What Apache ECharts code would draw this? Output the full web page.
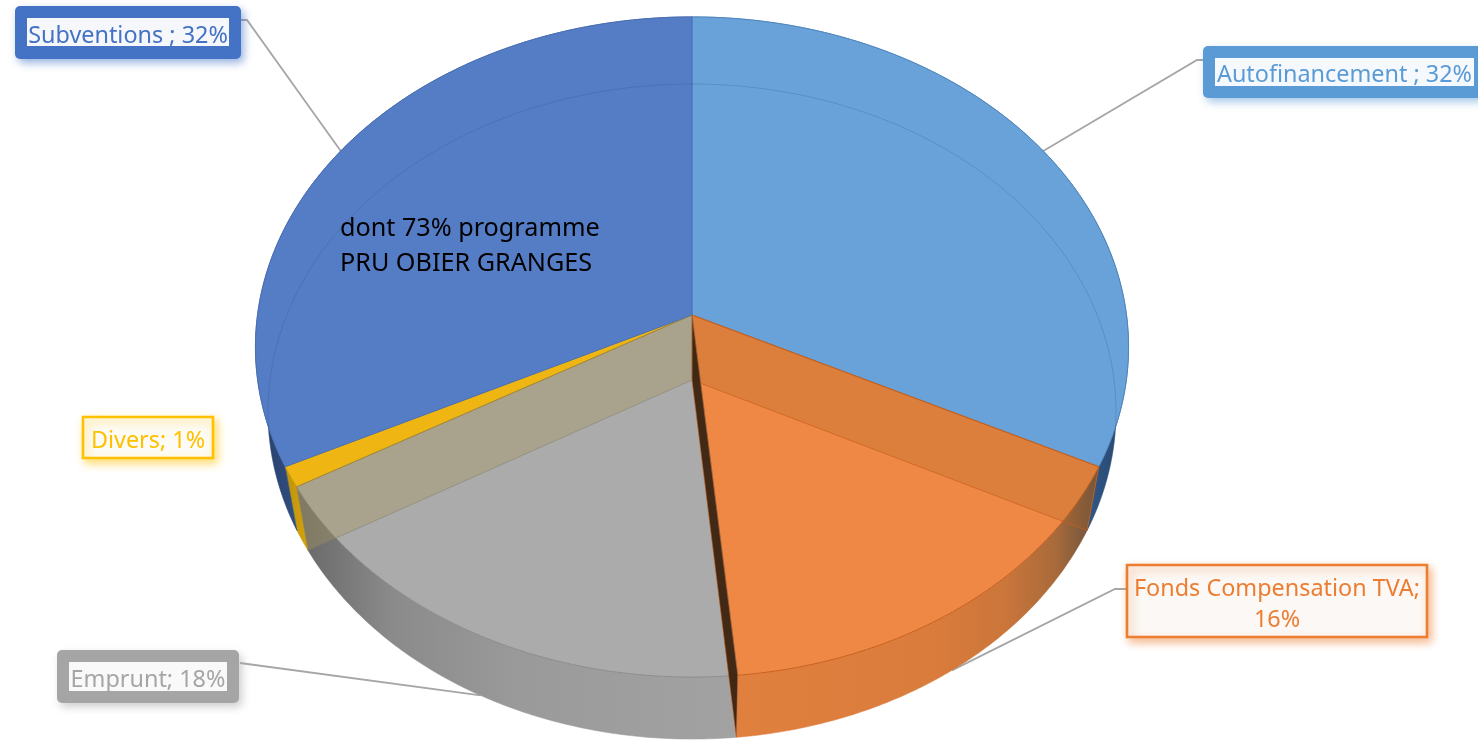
<!DOCTYPE html>
<html>
<head>
<meta charset="utf-8">
<script src="https://cdn.jsdelivr.net/npm/echarts@6/dist/echarts.min.js"></script>
<style>
  html, body { margin: 0; padding: 0; background: #fff; }
  #chart { width: 1478px; height: 740px; }
</style>
</head>
<body>
<div id="chart"></div>
<script>
// Funding sources, clockwise from twelve o'clock
const categories = ['Autofinancement', 'Fonds Compensation TVA', 'Emprunt', 'Divers', 'Subventions'];
const shares = [32, 16, 18, 1, 32];
const labelTexts = ['Autofinancement ; 32%', 'Fonds Compensation TVA;\n16%', 'Emprunt; 18%', 'Divers; 1%', 'Subventions ; 32%'];
const noteText = 'dont 73% programme\nPRU OBIER GRANGES';

// Perspective of the two discs: the upper face and the lower face of the cylinder
const upperDisc = { cx: 692, cy: 315, a: 434.5, b: 327, k: 0.0969 };
const lowerDisc = { cx: 692, cy: 380, a: 422, b: 324.5, k: 0.0964 };

const total = shares.reduce((s, v) => s + v, 0);
const startAngles = [];
shares.reduce((sum, v, i) => { startAngles[i] = sum / total * 2 * Math.PI; return sum + v; }, 0);
const endAngle = i => startAngles[i] + shares[i] / total * 2 * Math.PI;

function project(disc, t) {
  const x = Math.sin(t), y = -Math.cos(t), d = 1 - disc.k * y;
  return [disc.cx + disc.a * x / d, disc.cy + disc.b * y / d];
}
function arc(disc, from, to) {
  const n = Math.max(2, Math.ceil((to - from) / 0.01));
  const pts = [];
  for (let i = 0; i <= n; i++) pts.push(project(disc, from + (to - from) * i / n));
  return pts;
}
const grad = (x0, x1, stops) => new echarts.graphic.LinearGradient(x0, 0, x1, 0,
  stops.map(s => ({ offset: s[0], color: s[1] })), true);

const faceColors = ['#69A2D9', '#EE8844', '#ABABAB', '#EFB613', '#557DC6'];
const edgeColors = ['#4F86C0', '#C8601C', '#8C8C8C', '#C89A10', '#4A70B5'];
const wallFills = [
  grad(1040, 1125, [[0, '#3C6EA2'], [1, '#27466F']]),
  grad(735, 1092, [[0, '#E0803F'], [0.55, '#DA7C3C'], [0.75, '#CC763B'], [0.9, '#A86A3A'], [1, '#6E5440']]),
  grad(305, 735, [[0, '#6A6A6A'], [0.2, '#8A8A8A'], [0.5, '#9A9A9A'], [1, '#A2A2A2']]),
  grad(285, 312, [[0, '#BE9108'], [1, '#D9A70E']]),
  grad(262, 300, [[0, '#27406F'], [1, '#33507F']])
];
// Cut faces of the slices, seen through the translucent lid
const cutFills = [null, 'rgba(170,100,40,0.26)', 'rgba(62,36,16,0.97)', 'rgba(165,148,91,0.38)', null];
const cutEdges = [null, 'rgba(200,96,28,0.9)', 'rgba(200,96,28,0.7)', 'rgba(120,120,100,0.55)', null];

const seriesData = shares.map(v => [v]);

function wallItem(params) {
  const i = params.dataIndex;
  const points = arc(upperDisc, startAngles[i], endAngle(i)).concat(arc(lowerDisc, startAngles[i], endAngle(i)).reverse());
  return { type: 'polygon', shape: { points }, style: { fill: wallFills[i], stroke: wallFills[i], lineWidth: 0.5 } };
}
function faceItem(params) {
  const i = params.dataIndex;
  const points = [[upperDisc.cx, upperDisc.cy]].concat(arc(upperDisc, startAngles[i], endAngle(i)));
  return { type: 'polygon', shape: { points }, style: { fill: faceColors[i], stroke: edgeColors[i], lineWidth: 1 } };
}
function lowerRimItem(params) {
  const i = params.dataIndex;
  if (faceColors[i] !== '#69A2D9' && faceColors[i] !== '#557DC6') return null;
  return { type: 'polyline', shape: { points: arc(lowerDisc, startAngles[i], endAngle(i)) },
    style: { fill: null, stroke: 'rgba(40,70,120,0.22)', lineWidth: 1 } };
}
function cutItem(params) {
  const i = params.dataIndex;
  if (!cutFills[i]) return null;
  const t = startAngles[i];
  const points = [[upperDisc.cx, upperDisc.cy], project(upperDisc, t), project(lowerDisc, t), [lowerDisc.cx, lowerDisc.cy]];
  return { type: 'polygon', shape: { points }, style: { fill: cutFills[i], stroke: cutEdges[i], lineWidth: 0.8 } };
}

// Callout boxes and the disc each leader line lands on
const boxLayout = [
  { x: 1203, y: 46, w: 280, h: 52, r: 5, solid: true, inner: [1215, 58, 259, 28], tx: 1344.5, ty: 75, line: [1203, 60, 1197, 60], disc: upperDisc, stroke: '#5B9BD5', paper: '#F5F9FD' },
  { x: 1127, y: 565, w: 300, h: 72, r: 0, solid: false, tx: 1277, ty: 605, line: [1126, 589, 1115, 589], disc: lowerDisc, stroke: '#ED7D31', paper: '#FCF8F5' },
  { x: 57, y: 650, w: 182, h: 53, r: 5, solid: true, inner: [69, 662, 158, 29], tx: 148, ty: 680, line: [240, 663, 240, 663], disc: lowerDisc, stroke: '#A5A5A5', paper: '#F9F9F9' },
  { x: 83, y: 417, w: 130, h: 41, r: 0, solid: false, tx: 148, ty: 441, line: null, disc: null, stroke: '#FFC000', paper: '#FDFBF5' },
  { x: 15, y: 6, w: 226, h: 53, r: 5, solid: true, inner: [27, 18, 202, 28], tx: 128, ty: 36, line: [241, 20, 247, 20], disc: upperDisc, stroke: '#4472C4', paper: '#F5F7FB' }
];
const labelFont = '23.4px "Noto Sans", "Open Sans", sans-serif';

function leaderItem(params) {
  const i = params.dataIndex, b = boxLayout[i];
  if (!b.line) return null;
  const mid = (startAngles[i] + endAngle(i)) / 2;
  const tip = project(b.disc, mid);
  return { type: 'polyline', shape: { points: [[b.line[0], b.line[1]], [b.line[2], b.line[3]], tip] },
    style: { fill: null, stroke: '#A6A6A6', lineWidth: 1.8 } };
}
function labelItem(params) {
  const i = params.dataIndex, b = boxLayout[i];
  const children = [{
    type: 'rect',
    shape: { x: b.x, y: b.y, width: b.w, height: b.h, r: b.r },
    style: {
      fill: b.solid ? b.stroke : b.paper, stroke: b.stroke, lineWidth: b.solid ? 0 : 2.6,
      shadowBlur: 9, shadowOffsetX: 3, shadowOffsetY: 4, shadowColor: echarts.color.modifyAlpha(b.stroke, 0.55)
    }
  }];
  if (b.inner) {
    children.push({ type: 'rect', shape: { x: b.inner[0], y: b.inner[1], width: b.inner[2], height: b.inner[3] }, style: { fill: b.paper } });
  }
  children.push({
    type: 'text',
    style: { x: b.tx, y: b.ty, text: labelTexts[i], fill: b.stroke, font: labelFont, lineHeight: 31, align: 'center', verticalAlign: 'middle' }
  });
  return { type: 'group', children };
}
function noteItem() {
  return { type: 'text', style: { x: 340, y: 246, text: noteText, fill: '#000', font: '25.2px "Noto Sans", "Open Sans", sans-serif', lineHeight: 35, align: 'left', verticalAlign: 'middle' } };
}

const layer = (name, renderItem, z, data) => ({
  type: 'custom', name, coordinateSystem: 'none', renderItem, silent: true, z,
  data: data || seriesData, animation: false
});

const chart = echarts.init(document.getElementById('chart'), null, { renderer: 'canvas' });
chart.setOption({
  backgroundColor: '#ffffff',
  animation: false,
  series: [
    layer('leaders', leaderItem, 1),
    layer('walls', wallItem, 2),
    layer('faces', faceItem, 3),
    layer('lowerRim', lowerRimItem, 4),
    layer('cuts', cutItem, 5),
    layer('labels', labelItem, 6),
    layer('note', noteItem, 7, [[1]])
  ]
});
</script>
</body>
</html>
